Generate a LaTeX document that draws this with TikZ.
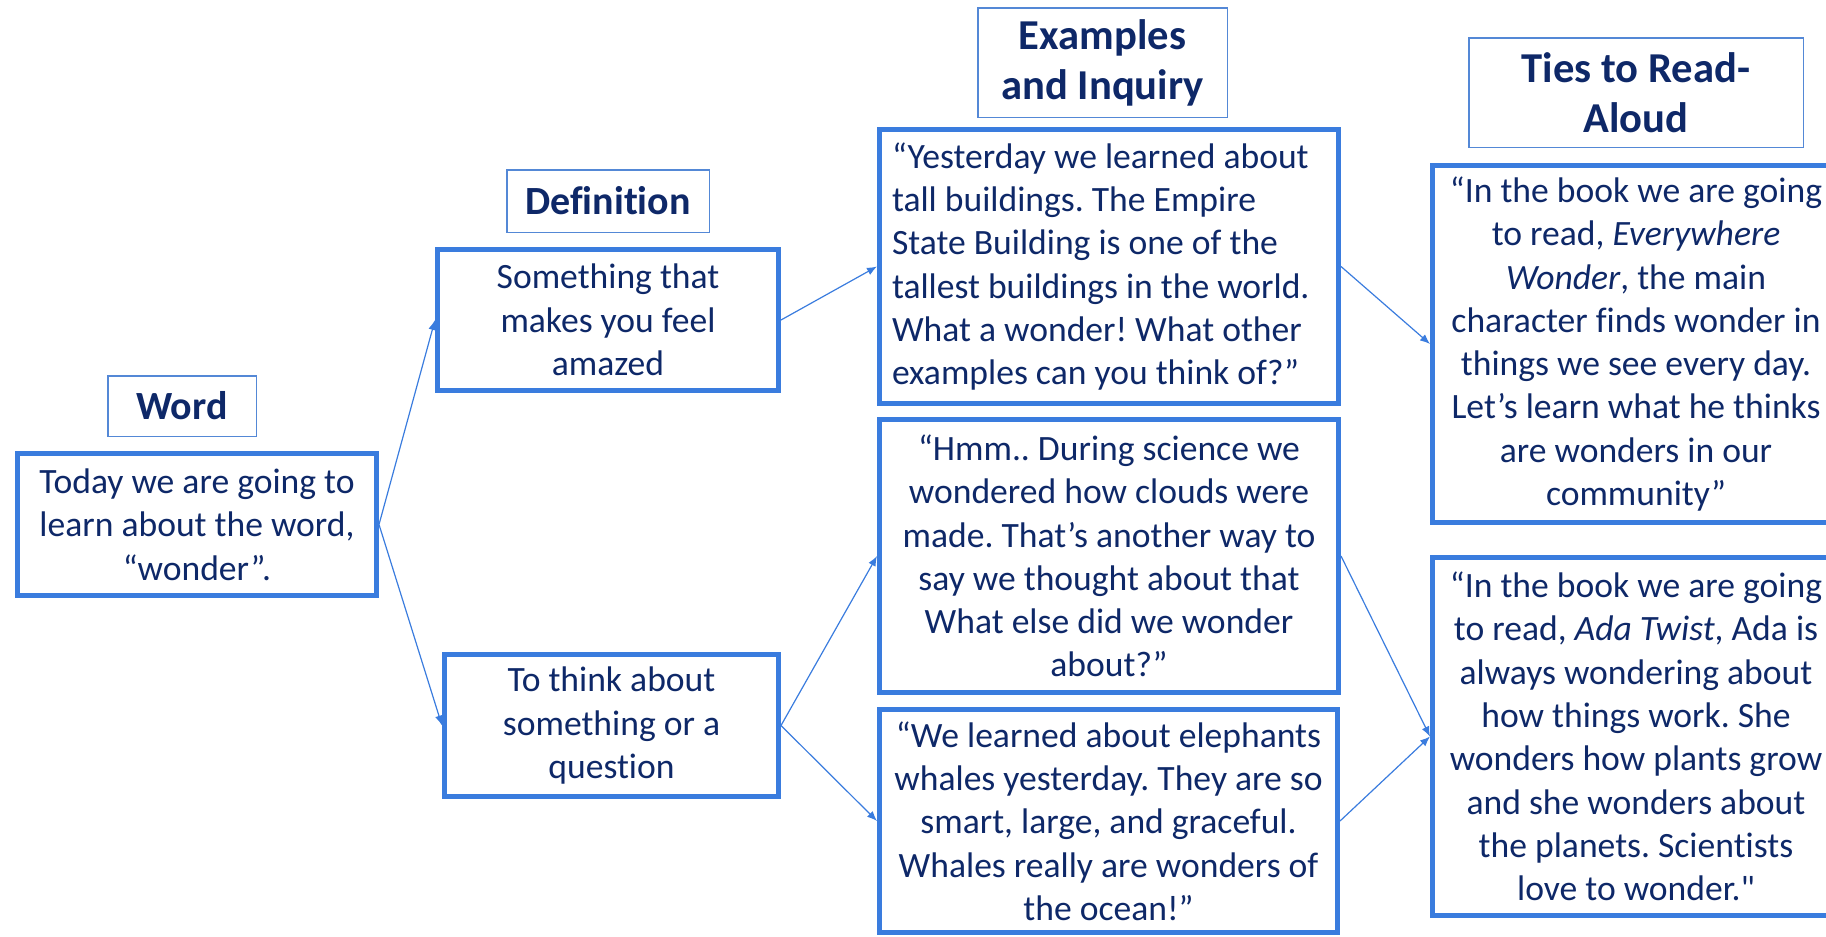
\documentclass[tikz,border=0pt]{standalone}
\usepackage{fontspec}
\setmainfont{Carlito}[Ligatures={TeXOff,NoCommon}]
\usetikzlibrary{arrows.meta}
\frenchspacing

\definecolor{boxblue}{RGB}{58,124,222}
\definecolor{headblue}{RGB}{84,136,214}
\definecolor{navy}{RGB}{14,40,104}

\tikzset{
  hdr/.style={draw=headblue,line width=0.75pt,text=navy,inner sep=0pt,align=center,
    font=\bfseries\fontsize{20}{24}\selectfont},
  bighdr/.style={hdr,font=\bfseries\fontsize{21.3}{25}\selectfont},
  card/.style={draw=boxblue,line width=2.5pt,text=navy,inner sep=0pt,align=center,
    font=\fontsize{17.8}{21.65}\selectfont},
  link/.style={draw=boxblue,line width=0.6pt,-{Latex[length=5pt,width=4pt]}}
}

\begin{document}
\begin{tikzpicture}[x=0.5pt,y=-0.5pt]
\useasboundingbox (0,0) rectangle (1826,937);

%%% headers %%%
\node[hdr,minimum width=74.25pt,minimum height=30.25pt] (wordhead) at (182,406) {Word};
\node[hdr,minimum width=101.25pt,minimum height=31.25pt] (defhead) at (608,201) {Definition};
\node[bighdr,minimum width=124.75pt,minimum height=54.75pt] (exhead) at (1102.5,62.5) {Examples\\and Inquiry};
\node[bighdr,minimum width=167.25pt,minimum height=54.75pt] (tieshead) at (1636,92.5) {Ties to Read-\\Aloud};

%%% boxes %%%
\node[card,minimum width=179.5pt,minimum height=71pt] (word) at (197,524.5)
  {Today we are going to\\learn about the word,\\“wonder”.};
\node[card,minimum width=170.5pt,minimum height=70.5pt] (defA) at (608,320)
  {Something that\\makes you feel\\amazed};
\node[card,minimum width=167pt,minimum height=71pt] (defB) at (611.5,725.5)
  {To think about\\something or a\\question};
\node[card,align=flush left,text width=217pt,minimum width=229.5pt,minimum height=137pt] (exA) at (1109,266.5)
  {“Yesterday we learned about\\tall buildings. The Empire\\State Building is one of the\\tallest buildings in the world.\\What a wonder! What other\\examples can you think of?”};
\node[card,minimum width=229.5pt,minimum height=136.5pt] (exB) at (1109,556)
  {“Hmm.. During science we\\wondered how clouds were\\made. That’s another way to\\say we thought about that\\What else did we wonder\\about?”};
\node[card,minimum width=229pt,minimum height=111.5pt] (exC) at (1108.5,821)
  {“We learned about elephants\\whales yesterday. They are so\\smart, large, and graceful.\\Whales really are wonders of\\the ocean!”};
\node[card,minimum width=203.5pt,minimum height=178.5pt] (tiesA) at (1636,344)
  {“In the book we are going\\to read, \textit{Everywhere}\\\textit{Wonder}, the main\\character finds wonder in\\things we see every day.\\Let’s learn what he thinks\\are wonders in our\\community”};
\node[card,minimum width=203.5pt,minimum height=179pt] (tiesB) at (1636,736.5)
  {“In the book we are going\\to read, \textit{Ada Twist}, Ada is\\always wondering about\\how things work. She\\wonders how plants grow\\and she wonders about\\the planets. Scientists\\love to wonder."};

%%% links %%%
\draw[link] (word.east) -- (defA.west);
\draw[link] (word.east) -- (defB.west);
\draw[link] (defA.east) -- (exA.west);
\draw[link] (defB.east) -- (exB.west);
\draw[link] (defB.east) -- (exC.west);
\draw[link] (exA.east) -- (tiesA.west);
\draw[link] (exB.east) -- (tiesB.west);
\draw[link] (exC.east) -- (tiesB.west);
\end{tikzpicture}
\end{document}
